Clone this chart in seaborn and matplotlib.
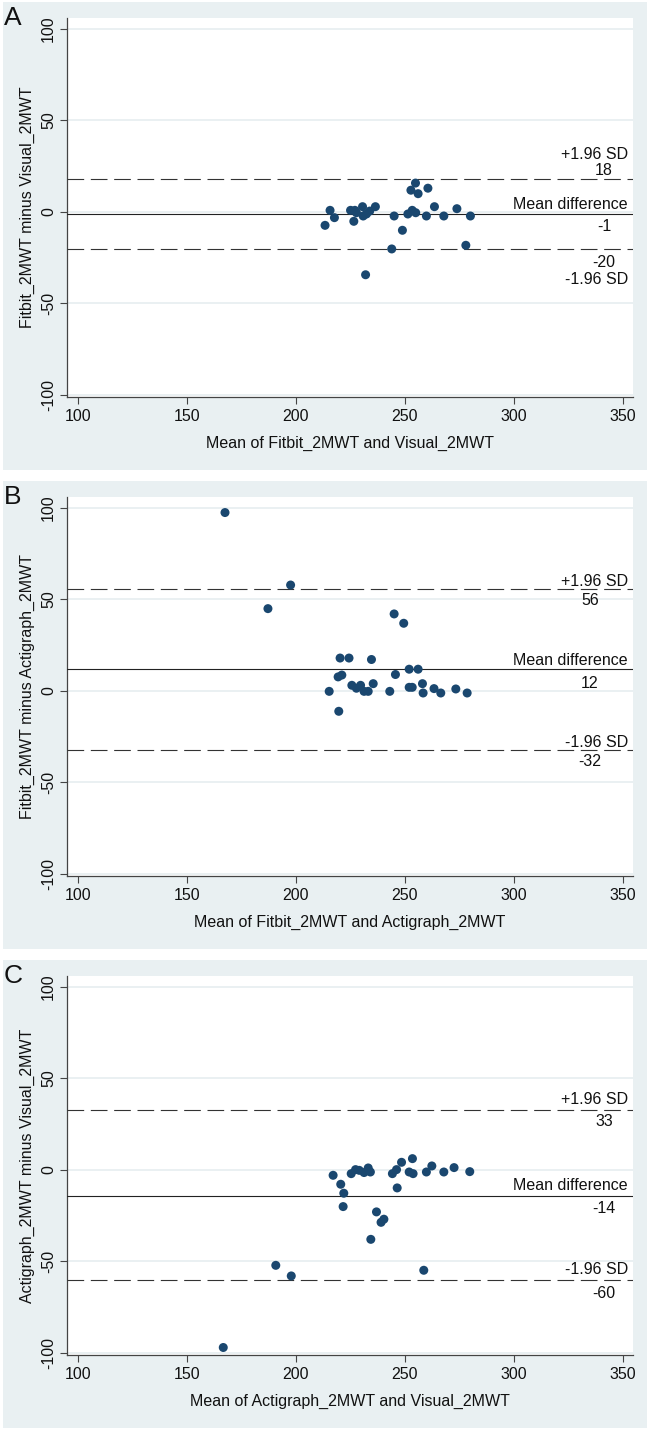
import seaborn as sns
import matplotlib.pyplot as plt
import pandas as pd
from matplotlib.patches import Rectangle

# Bland-Altman data (mean of the two methods, difference)
fitbit_visual_mean = [213.4, 215.7, 217.7, 226.6, 225.1, 227.1, 227.8, 230.6, 230.9, 232.4,
                      233.9, 236.5, 232.0, 244.0, 245.1, 248.9, 251.4, 253.4, 255.0, 252.8,
                      254.9, 256.1, 260.6, 259.9, 263.6, 267.9, 273.9, 278.0, 280.1]
fitbit_visual_diff = [-7.3, 0.9, -3.1, -5.1, 0.9, 0.9, -0.4, 2.9, -2.2, -1.1,
                      0.5, 2.9, -34.3, -20.2, -2.2, -10.0, -1.1, 0.9, -0.4, 11.9,
                      15.8, 10.0, 13.0, -2.2, 2.9, -2.2, 1.8, -18.2, -2.2]

fitbit_acti_mean = [167.5, 187.2, 197.6, 215.3, 219.7, 219.4, 221.1, 220.3, 224.4, 225.7,
                    227.8, 229.7, 231.3, 233.2, 235.5, 234.7, 243.1, 245.7, 245.1, 249.5,
                    252.0, 256.1, 252.0, 253.4, 258.1, 258.4, 263.4, 266.5, 273.4, 278.6]
fitbit_acti_diff = [97.5, 45.0, 57.9, -0.2, -11.1, 7.7, 8.7, 18.0, 18.0, 3.1,
                    1.5, 3.1, -0.2, -0.2, 4.0, 17.2, -0.2, 9.0, 42.1, 37.0,
                    11.9, 11.9, 2.0, 2.0, 4.0, -1.1, 1.3, -1.1, 1.1, -1.1]

acti_visual_mean = [166.7, 190.8, 197.9, 258.7, 217.1, 220.6, 222.0, 221.7, 225.4, 227.4,
                    229.1, 231.3, 233.2, 234.2, 234.4, 237.0, 239.1, 240.4, 244.3, 246.2,
                    246.5, 248.5, 252.0, 253.5, 253.8, 259.9, 262.4, 267.9, 272.6, 279.8]
acti_visual_diff = [-97.0, -52.1, -57.9, -54.8, -2.9, -7.8, -12.7, -20.0, -2.0, 0.2,
                    -0.2, -1.4, 1.1, -1.1, -37.9, -22.9, -28.6, -26.9, -2.0, 0.2,
                    -9.8, 4.2, -1.1, 6.2, -2.0, -1.1, 2.2, -1.1, 1.3, -0.9]

# upper limit, mean difference, lower limit
limits_a = [18, -1, -20]
limits_b = [56, 12, -32]
limits_c = [33, -14, -60]

panel_letters = ["A", "B", "C"]
x_labels = ["Mean of Fitbit_2MWT and Visual_2MWT",
            "Mean of Fitbit_2MWT and Actigraph_2MWT",
            "Mean of Actigraph_2MWT and Visual_2MWT"]
y_labels = ["Fitbit_2MWT minus Visual_2MWT",
            "Fitbit_2MWT minus Actigraph_2MWT",
            "Actigraph_2MWT minus Visual_2MWT"]
x_ticks = [100, 150, 200, 250, 300, 350]
y_ticks = [-100, -50, 0, 50, 100]

BG = "#e9f0f2"
GRID = "#e8eff1"
NAVY = "#1a476f"
LINE = "#333333"
W, H = 650, 1429

sns.set_theme(style="white")
plt.rcParams["font.family"] = ["Liberation Sans", "DejaVu Sans"]

fig = plt.figure(figsize=(W / 100, H / 100), dpi=100, facecolor="white")

# pixel offsets (above line = positive) for label / number text, per panel
text_offsets = [
    [(25, 9), (9, -13), (-31, -14)],
    [(7, -12), (9, -14), (7, -12)],
    [(10, -12), (10, -13), (10, -14)],
]
number_x = [604, 590, 604]

panels = [
    (fitbit_visual_mean, fitbit_visual_diff, limits_a),
    (fitbit_acti_mean, fitbit_acti_diff, limits_b),
    (acti_visual_mean, acti_visual_diff, limits_c),
]
tops = [2, 481, 960]

for i, (xm, yd, lims) in enumerate(panels):
    top = tops[i]
    fig.patches.append(Rectangle((3 / W, 1 - (top + 468) / H), 644 / W, 468 / H,
                                 transform=fig.transFigure, facecolor=BG,
                                 edgecolor="none", zorder=-5))
    ax = fig.add_axes([67 / W, 1 - (top + 395) / H, 566 / W, 379 / H])
    ax.set_facecolor("white")

    df = pd.DataFrame({"mean": xm, "diff": yd})
    sns.scatterplot(data=df, x="mean", y="diff", ax=ax, color=NAVY, s=42,
                    edgecolor="none", zorder=4)

    upper, mid, lower = lims
    ax.axhline(upper, color=LINE, lw=0.8, dashes=(15, 6), zorder=3)
    ax.axhline(mid, color="#222222", lw=0.8, zorder=3)
    ax.axhline(lower, color=LINE, lw=0.8, dashes=(15, 6), zorder=3)

    ax.set_xlim(95, 354.7)
    ax.set_ylim(-101.1, 106)
    ax.set_xticks(x_ticks)
    ax.set_yticks(y_ticks)
    ax.set_yticklabels([str(t) for t in y_ticks], rotation=90, va="center")
    ax.yaxis.grid(True, color=GRID, lw=1.3, zorder=0)
    ax.xaxis.grid(False)
    ax.set_axisbelow(True)

    for side in ["top", "right"]:
        ax.spines[side].set_visible(False)
    for side in ["left", "bottom"]:
        ax.spines[side].set_color("#444444")
        ax.spines[side].set_linewidth(0.9)
    ax.tick_params(axis="both", direction="out", length=4.8, width=0.8,
                   color="#444444", labelsize=11.5, labelcolor="#111111",
                   left=True, bottom=True)
    ax.tick_params(axis="y", pad=3.0)
    ax.tick_params(axis="x", pad=4.0)

    ax.set_xlabel(x_labels[i], fontsize=11.5, color="#111111")
    ax.set_ylabel(y_labels[i], fontsize=11.5, color="#111111")
    ax.xaxis.set_label_coords(0.5, -(441 - 395) / 379)
    ax.xaxis.label.set_va("center")
    ax.yaxis.set_label_coords((27 - 67) / 566, 0.5)
    ax.yaxis.label.set_va("center")

    names = ["+1.96 SD", "Mean difference", "-1.96 SD"]
    nx = (number_x[i] - 67) / 566
    for name, val, (dl, dn) in zip(names, lims, text_offsets[i]):
        ax.annotate(name, xy=(0.991, val), xycoords=("axes fraction", "data"),
                    xytext=(0, dl * 0.72), textcoords="offset points",
                    ha="right", va="center", fontsize=11.5, color="#111111",
                    annotation_clip=False)
        ax.annotate(str(val), xy=(nx, val), xycoords=("axes fraction", "data"),
                    xytext=(0, dn * 0.72), textcoords="offset points",
                    ha="center", va="center", fontsize=11.5, color="#111111",
                    annotation_clip=False)

    fig.text(4 / W, 1 - (top + 16) / H, panel_letters[i], fontsize=19,
             ha="left", va="center", color="#111111")

fig.savefig("out.png", dpi=100, facecolor="white")
